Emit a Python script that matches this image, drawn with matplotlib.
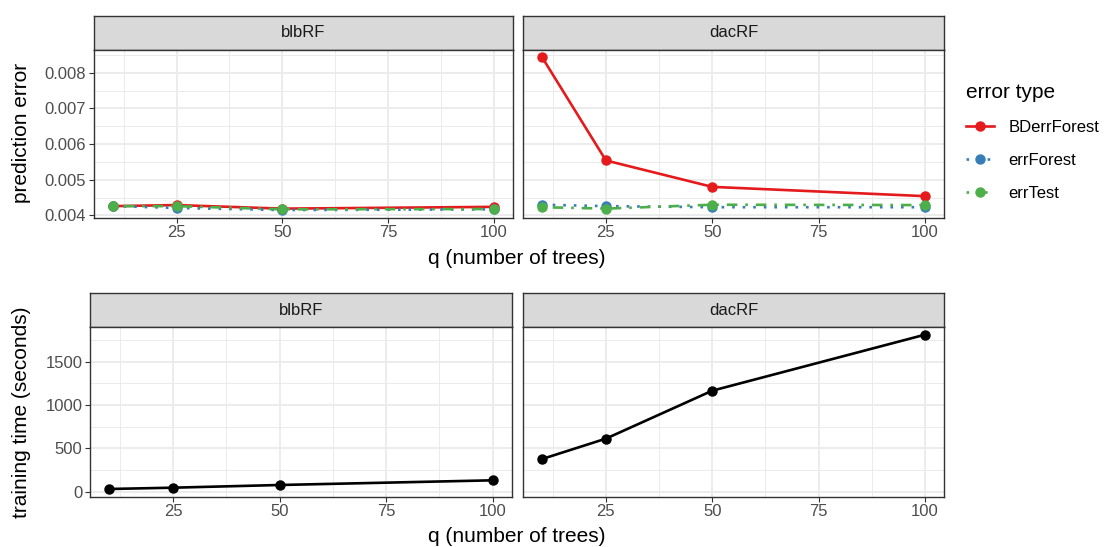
import numpy as np
import matplotlib
matplotlib.use('Agg')
import matplotlib.pyplot as plt
from matplotlib.lines import Line2D

plt.rcParams['font.family'] = ['Liberation Sans', 'DejaVu Sans']

# data
q = [10, 25, 50, 100]
methods = ['blbRF', 'dacRF']
err_types = ['BDerrForest', 'errForest', 'errTest']

blb_BDerrForest = [0.00426, 0.00429, 0.00419, 0.00424]
blb_errForest = [0.00426, 0.00421, 0.00415, 0.00417]
blb_errTest = [0.00426, 0.00426, 0.00417, 0.00418]

dac_BDerrForest = [0.00843, 0.00554, 0.00480, 0.00454]
dac_errForest = [0.00430, 0.00426, 0.00423, 0.00423]
dac_errTest = [0.00423, 0.00419, 0.00430, 0.00429]

blb_time = [31, 46, 77, 131]
dac_time = [377, 612, 1165, 1811]

errors = {
    'blbRF': [blb_BDerrForest, blb_errForest, blb_errTest],
    'dacRF': [dac_BDerrForest, dac_errForest, dac_errTest],
}
times = {'blbRF': blb_time, 'dacRF': dac_time}

colors = ['#E41A1C', '#377EB8', '#4DAF4A']
styles = ['-', (0, (1, 3)), (0, (1, 3, 4, 3))]

W, H = 1105, 547


def rect(l, t, r, b):
    return [l / W, 1 - b / H, (r - l) / W, (b - t) / H]


def expand(lo, hi, frac=0.05):
    d = (hi - lo) * frac
    return lo - d, hi + d


def style_panel(ax, xlim, ylim, yticks, yminor, show_y):
    ax.set_xlim(*xlim)
    ax.set_ylim(*ylim)
    ax.set_xticks([25, 50, 75, 100])
    ax.set_xticks([12.5, 37.5, 62.5, 87.5], minor=True)
    ax.set_yticks(yticks)
    ax.set_yticks(yminor, minor=True)
    ax.grid(which='major', color='#EBEBEB', lw=1.3)
    ax.grid(which='minor', color='#EBEBEB', lw=0.7)
    ax.set_axisbelow(True)
    for s in ax.spines.values():
        s.set_color('#333333')
        s.set_linewidth(1.0)
    ax.tick_params(which='major', length=3.5, width=0.8, color='#333333',
                   labelsize=12, labelcolor='#4D4D4D', pad=2)
    ax.tick_params(which='minor', length=0)
    if not show_y:
        ax.tick_params(axis='y', which='both', left=False, labelleft=False)


def strip(fig, l, t, r, b, label):
    sa = fig.add_axes(rect(l, t, r, b))
    sa.set_facecolor('#D9D9D9')
    sa.set_xticks([])
    sa.set_yticks([])
    for s in sa.spines.values():
        s.set_color('#333333')
        s.set_linewidth(1.0)
    sa.text(0.5, 0.5, label, ha='center', va='center', fontsize=12,
            color='#1A1A1A', transform=sa.transAxes)


fig = plt.figure(figsize=(W / 100, H / 100), dpi=100)

xlim = expand(min(q), max(q))
all_err = [v for m in methods for s in errors[m] for v in s]
ylim_err = expand(min(all_err), max(all_err))
all_time = [v for m in methods for v in times[m]]
ylim_time = expand(min(all_time), max(all_time))

top_cols = [(94, 513), (523, 944)]
bot_cols = [(90, 511.7), (523, 944)]

for i, m in enumerate(methods):
    l, r = top_cols[i]
    strip(fig, l, 15.7, r, 49.7, m)
    ax = fig.add_axes(rect(l, 49.7, r, 217.7))
    style_panel(ax, xlim, ylim_err, [0.004, 0.005, 0.006, 0.007, 0.008],
                [0.0045, 0.0055, 0.0065, 0.0075, 0.0085], i == 0)
    for vals, c, ls in zip(errors[m], colors, styles):
        ax.plot(q, vals, color=c, lw=1.9, ls=ls, zorder=3)
    for vals, c in zip(errors[m], colors):
        ax.plot(q, vals, 'o', color=c, ms=6.5, zorder=4)
    ax.yaxis.set_major_formatter(plt.FormatStrFormatter('%.3f'))

    l, r = bot_cols[i]
    strip(fig, l, 293.3, r, 327, m)
    ax = fig.add_axes(rect(l, 327, r, 496.7))
    style_panel(ax, xlim, ylim_time, [0, 500, 1000, 1500],
                [250, 750, 1250, 1750], i == 0)
    ax.plot(q, times[m], color='black', lw=1.9, zorder=3)
    ax.plot(q, times[m], 'o', color='black', ms=6.5, zorder=4)

fig.text(22 / W, 1 - 133 / H, 'prediction error', rotation=90, ha='center',
         va='center', fontsize=15, color='black')
fig.text(22 / W, 1 - 412 / H, 'training time (seconds)', rotation=90,
         ha='center', va='center', fontsize=15, color='black')
fig.text(517 / W, 1 - 259 / H, 'q (number of trees)', ha='center',
         va='center', fontsize=15, color='black')
fig.text(517 / W, 1 - 537 / H, 'q (number of trees)', ha='center',
         va='center', fontsize=15, color='black')

handles = [Line2D([0], [0], color=c, ls=ls, lw=1.9, marker='o', ms=6.5)
           for c, ls in zip(colors, styles)]
leg = fig.legend(handles, err_types, loc='upper left',
                 bbox_to_anchor=(951 / W, 1 - 68 / H), frameon=False,
                 fontsize=12, title='error type', title_fontsize=15,
                 handlelength=1.7, handletextpad=0.85, labelspacing=1.08)
leg._legend_box.align = 'left'

fig.savefig('out.png', dpi=100)
